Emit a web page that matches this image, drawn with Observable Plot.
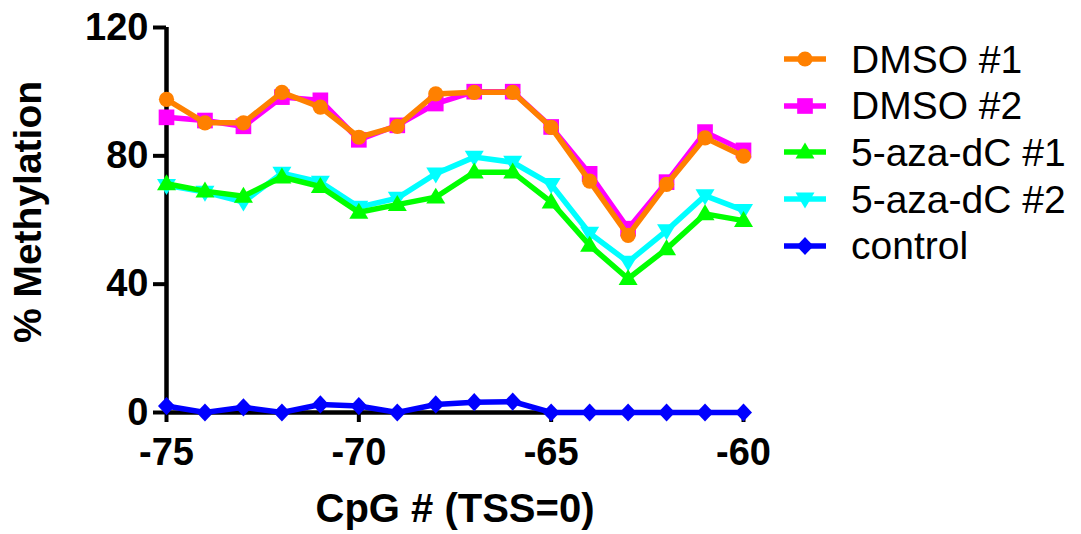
<!DOCTYPE html>
<html>
<head>
<meta charset="utf-8">
<script src="https://cdn.jsdelivr.net/npm/d3@7"></script>
<script src="https://cdn.jsdelivr.net/npm/@observablehq/plot@0.6"></script>
<style>
  html, body { margin: 0; padding: 0; background: #fff; }
  #wrap { position: relative; width: 1081px; height: 534px; font-family: "Liberation Sans", Arial, sans-serif; }
  #legend { position: absolute; left: 784px; top: 0; }
  .row { position: absolute; left: 0; height: 46px; display: flex; align-items: center; white-space: nowrap; }
  .row svg { display: block; }
  .row span { font-size: 39px; color: #000; margin-left: 23px; line-height: 1; }
</style>
</head>
<body>
<div id="wrap"><div id="legend"></div></div>
<script>
// ---- data ----
const cpg = [-75, -74, -73, -72, -71, -70, -69, -68, -67, -66, -65, -64, -63, -62, -61, -60];
const dmso1 = [97.6, 90.3, 90.3, 99.8, 95.2, 85.8, 89.2, 99.3, 99.8, 99.8, 88.9, 72.1, 55.2, 71.1, 85.6, 79.9];
const dmso2 = [92.0, 91.0, 89.2, 98.3, 97.3, 85.0, 89.5, 96.3, 100, 100, 89.0, 74.4, 57.3, 71.8, 87.4, 81.7];
const aza1 = [71.3, 69.0, 67.4, 73.4, 70.4, 62.4, 64.8, 67.1, 74.9, 74.9, 65.6, 52.1, 41.7, 51.0, 61.9, 59.8];
const aza2 = [70.8, 68.7, 65.6, 74.6, 71.8, 64.0, 66.8, 74.4, 79.6, 78.0, 71.1, 55.9, 46.9, 56.7, 67.6, 63.0];
const control = [2.0, 0, 1.6, 0, 2.5, 2.0, 0, 2.5, 3.2, 3.4, 0, 0, 0, 0, 0, 0];
const seriesNames = ["DMSO #1", "DMSO #2", "5-aza-dC #1", "5-aza-dC #2", "control"];
const seriesValues = [dmso1, dmso2, aza1, aza2, control];
const seriesColors = ["#FF8000", "#FF00FF", "#00FF00", "#00FFFF", "#0000FF"];
const yTicks = [0, 40, 80, 120];
const xTicks = [-75, -70, -65, -60];
const xTitle = "CpG # (TSS=0)";
const yTitle = "% Methylation";

// ---- symbols ----
const circleSym = {draw(ctx, size) { const r = Math.sqrt(size / Math.PI); ctx.moveTo(r, 0); ctx.arc(0, 0, r, 0, 2 * Math.PI); }};
const squareSym = {draw(ctx, size) { const r = Math.sqrt(size / Math.PI) * 1.03; ctx.rect(-r, -r, 2 * r, 2 * r); }};
const triUpSym = {draw(ctx, size) { const r = Math.sqrt(size / Math.PI); const w = r * 1.25, h = r * 2.1;
  ctx.moveTo(0, -h * 0.6); ctx.lineTo(w, h * 0.4); ctx.lineTo(-w, h * 0.4); ctx.closePath(); }};
const triDownSym = {draw(ctx, size) { const r = Math.sqrt(size / Math.PI); const w = r * 1.25, h = r * 2.1;
  ctx.moveTo(0, h * 0.6); ctx.lineTo(w, -h * 0.4); ctx.lineTo(-w, -h * 0.4); ctx.closePath(); }};
const diamondSym = {draw(ctx, size) { const r = Math.sqrt(size / Math.PI); const w = r * 1.12, h = r * 1.2;
  ctx.moveTo(0, -h); ctx.lineTo(w, 0); ctx.lineTo(0, h); ctx.lineTo(-w, 0); ctx.closePath(); }};
const seriesSymbols = [circleSym, squareSym, triUpSym, triDownSym, diamondSym];
const R = 7.6;

// tidy table
const series = seriesNames.map((name, i) => ({
  name, color: seriesColors[i], symbol: seriesSymbols[i],
  data: cpg.map((x, j) => ({x, y: seriesValues[i][j], name}))
}));

// draw order: last series first (Prism style)
const dataMarks = [];
for (let i = series.length - 1; i >= 0; i--) {
  const s = series[i];
  dataMarks.push(Plot.line(s.data, {x: "x", y: "y", stroke: s.color, strokeWidth: 5.5, strokeLinejoin: "miter", strokeMiterlimit: 2}));
  dataMarks.push(Plot.dot(s.data, {x: "x", y: "y", fill: s.color, stroke: "none", r: R, symbol: s.symbol}));
}

const chart = Plot.plot({
  width: 1081,
  height: 534,
  marginLeft: 166,
  marginRight: 338,
  marginTop: 27,
  marginBottom: 122,
  style: {fontFamily: "'Liberation Sans', Arial, sans-serif", color: "#000", background: "#fff", overflow: "visible"},
  x: {domain: [-75, -60]},
  y: {domain: [0, 120]},
  marks: [
    Plot.axisY({ticks: yTicks, tickSize: 13, tickPadding: 5, fontSize: 38, fontWeight: "bold", strokeWidth: 4, label: null, tickFormat: d => String(d)}),
    Plot.axisX({ticks: xTicks, tickSize: 10, tickPadding: 16, fontSize: 38, fontWeight: "bold", strokeWidth: 4, label: null, tickFormat: d => String(d)}),
    Plot.ruleX([-75], {stroke: "#000", strokeWidth: 4.5}),
    Plot.ruleY([0], {stroke: "#000", strokeWidth: 4.5}),
    Plot.text([xTitle], {frameAnchor: "bottom", dy: 109, fontSize: 40, fontWeight: "bold", fill: "#000"}),
    Plot.text([yTitle], {frameAnchor: "left", textAnchor: "middle", dx: -138, dy: -8, rotate: -90, fontSize: 39, fontWeight: "bold", fill: "#000"}),
    ...dataMarks
  ]
});
document.getElementById("wrap").prepend(chart);

// ---- legend ----
const legend = document.getElementById("legend");
series.forEach((s, i) => {
  const row = document.createElement("div");
  row.className = "row";
  row.style.top = (59 + i * 46.7 - 23) + "px";
  const svg = d3.create("svg").attr("width", 44).attr("height", 24);
  svg.append("line").attr("x1", 0).attr("x2", 42).attr("y1", 12).attr("y2", 12)
    .attr("stroke", s.color).attr("stroke-width", 5.5);
  svg.append("path").attr("transform", "translate(21,12)")
    .attr("d", d3.symbol(s.symbol, Math.PI * R * R)()).attr("fill", s.color);
  row.appendChild(svg.node());
  const t = document.createElement("span");
  t.textContent = s.name;
  row.appendChild(t);
  legend.appendChild(row);
});
</script>
</body>
</html>
